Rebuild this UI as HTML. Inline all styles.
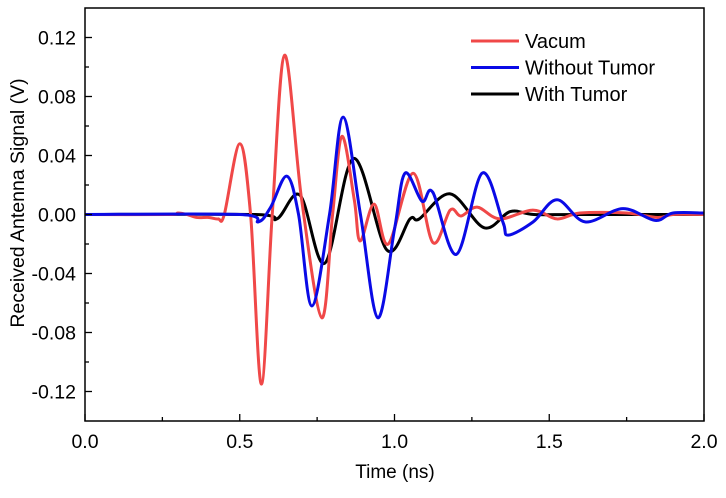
<!DOCTYPE html>
<html><head><meta charset="utf-8"><style>
body{margin:0;background:#fff;width:726px;height:493px;overflow:hidden}
text{font-family:"Liberation Sans",Arial,sans-serif}
</style></head><body>
<svg id="chart" width="726" height="493" viewBox="0 0 726 493" xmlns="http://www.w3.org/2000/svg">
<g id="marks"></g>
<rect x="85" y="8" width="619" height="413" fill="none" stroke="#000" stroke-width="1.5"/>
<g id="axes"></g>
<text x="395" y="478" font-size="19" text-anchor="middle">Time (ns)</text>
<text transform="translate(24,203) rotate(-90)" font-size="19.5" text-anchor="middle">Received Antenna Signal (V)</text>
<g id="legend"></g>
</svg>
<script>
const xTicks=[0,0.5,1.0,1.5,2.0];
const xTickLabels=["0.0","0.5","1.0","1.5","2.0"];
const yTicks=[-0.12,-0.08,-0.04,0,0.04,0.08,0.12];
const yTickLabels=["-0.12","-0.08","-0.04","0.00","0.04","0.08","0.12"];
const seriesNames=["Vacum","Without Tumor","With Tumor"];
const vacumT=[0,0.27,0.30,0.33,0.36,0.40,0.43,0.45,0.50,0.535,0.57,0.605,0.645,0.70,0.765,0.80,0.83,0.87,0.889,0.934,0.98,1.06,1.124,1.18,1.215,1.267,1.34,1.447,1.525,1.6,1.75,1.85,1.9,2.0];
const vacumV=[0,0,0.001,0,-0.002,-0.002,-0.003,0,0.048,0,-0.115,0,0.108,0.01,-0.07,0,0.053,0.01,-0.018,0.007,-0.02,0.028,-0.019,0.003,-0.001,0.005,-0.003,0.003,-0.003,0.001,0.001,-0.002,0,0];
const withoutT=[0,0.5,0.56,0.6,0.652,0.69,0.733,0.79,0.834,0.89,0.946,1.0,1.034,1.089,1.124,1.2,1.283,1.35,1.367,1.448,1.525,1.616,1.738,1.842,1.9,2.0];
const withoutV=[0,0,-0.005,0.005,0.026,0,-0.062,0,0.066,0,-0.070,-0.01,0.028,0.009,0.015,-0.027,0.028,-0.005,-0.014,-0.005,0.01,-0.005,0.004,-0.004,0.001,0.001];
const withT=[0,0.55,0.62,0.695,0.775,0.868,0.975,1.05,1.08,1.18,1.29,1.374,1.45,1.6,2.0];
const withV=[0,0,-0.003,0.013,-0.033,0.038,-0.024,-0.003,-0.003,0.014,-0.009,0.002,0,0,0];
const NS="http://www.w3.org/2000/svg";
const X0=85,X1=704,Y0=421,Y1=8;
const xs=t=>X0+(t-0)/(2-0)*(X1-X0);
const ys=v=>Y0-(v+0.14)/0.28*(Y0-Y1);
function mk(tag,attrs,parent){const e=document.createElementNS(NS,tag);for(const k in attrs)e.setAttribute(k,attrs[k]);parent.appendChild(e);return e;}
const axes=document.getElementById('axes');
for(let i=0;i<=8;i++){const t=i*0.25,maj=i%2==0;const l=mk('line',{x1:xs(t),x2:xs(t),y1:Y0,y2:Y0-(maj?7:4),stroke:'#000','stroke-width':1.3},axes);

}
xTicks.forEach((t,i)=>{const e=mk('text',{x:xs(t),y:448,'font-size':19.5,'text-anchor':'middle'},axes);e.textContent=xTickLabels[i];

});
for(let i=-7;i<=7;i++){const v=i*0.02,maj=(i%2==0);if(Math.abs(v)>0.139)continue;const l=mk('line',{x1:X0,x2:X0+(maj?7:4),y1:ys(v),y2:ys(v),stroke:'#000','stroke-width':1.3},axes);

}
yTicks.forEach((v,i)=>{const e=mk('text',{x:76,y:ys(v)+7,'font-size':19.5,'text-anchor':'end'},axes);e.textContent=yTickLabels[i];

});
function curve(T,V){const p=T.map((t,i)=>[xs(t),ys(V[i])]);let d='M'+p[0][0]+','+p[0][1];
for(let i=0;i<p.length-1;i++){const p0=p[Math.max(i-1,0)],p1=p[i],p2=p[i+1],p3=p[Math.min(i+2,p.length-1)];
const c1=[p1[0]+(p2[0]-p0[0])/6,p1[1]+(p2[1]-p0[1])/6],c2=[p2[0]-(p3[0]-p1[0])/6,p2[1]-(p3[1]-p1[1])/6];
d+=' C'+c1[0]+','+c1[1]+' '+c2[0]+','+c2[1]+' '+p2[0]+','+p2[1];}return d;}
const marks=document.getElementById('marks');
const colors=['#f04848','#0a0ae6','#000'];
const data=[[withT,withV],[vacumT,vacumV],[withoutT,withoutV]];
const idx=[2,0,1];const names=['line-with-tumor','line-vacum','line-without-tumor'];
data.forEach((s,k)=>{const p=mk('path',{d:curve(s[0],s[1]),fill:'none',stroke:colors[idx[k]],'stroke-width':3,'stroke-linejoin':'round'},marks);

});
const lg=document.getElementById('legend');
seriesNames.forEach((n,i)=>{const y=41+i*26.5;
const l=mk('line',{x1:471,x2:519,y1:y,y2:y,stroke:colors[i],'stroke-width':3},lg);


const t=mk('text',{x:525,y:y+7,'font-size':20},lg);t.textContent=n;

});
</script>
</body></html>
